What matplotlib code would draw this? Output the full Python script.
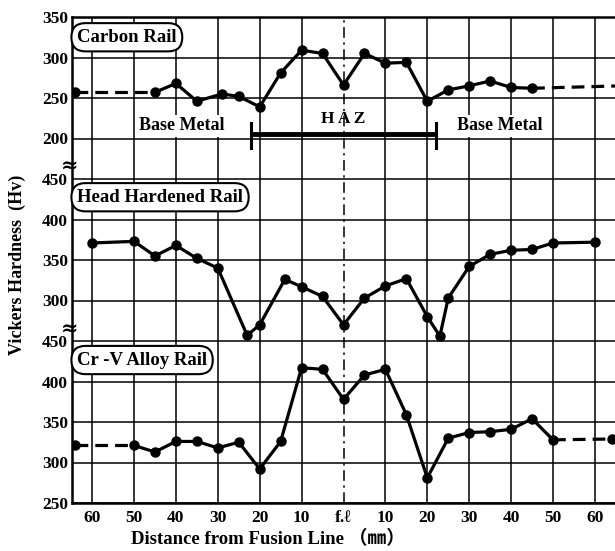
import matplotlib
matplotlib.use("Agg")
import matplotlib.pyplot as plt
import matplotlib.transforms as mtransforms

plt.rcParams['font.family'] = ['Liberation Serif', 'DejaVu Serif', 'Noto Sans CJK JP']
plt.rcParams['font.weight'] = 'bold'

# ---- data ----
# distance from fusion line in mm (negative = left side)
carbon_x = [-64, -45, -40, -35, -29, -25, -20, -15, -10, -5, 0, 5, 10, 15, 20, 25, 30, 35, 40, 45, 66]
carbon_hv = [257, 257, 268, 246, 255, 252, 239, 281, 309, 305, 266, 305, 293, 294, 246, 260, 265, 271, 263, 262, 265]

head_x = [-60, -50, -45, -40, -35, -30, -23, -20, -14, -10, -5, 0, 5, 10, 15, 20, 23, 25, 30, 35, 40, 45, 50, 60]
head_hv = [371, 373, 355, 368, 352, 340, 257, 270, 326, 317, 305, 270, 303, 318, 327, 280, 256, 303, 342, 357, 362, 363, 371, 372]

crv_x = [-64, -50, -45, -40, -35, -30, -25, -20, -15, -10, -5, 0, 5, 10, 15, 20, 25, 30, 35, 40, 45, 50, 64]
crv_hv = [321, 321, 313, 326, 326, 318, 325, 292, 326, 417, 415, 378, 408, 415, 359, 281, 330, 337, 338, 341, 354, 328, 329]

x_ticks = [-60, -50, -40, -30, -20, -10, 0, 10, 20, 30, 40, 50, 60]
x_labels = ['60', '50', '40', '30', '20', '10', 'f.ℓ', '10', '20', '30', '40', '50', '60']
y_labels = ['250', '300', '350', '400', '450', '300', '350', '400', '450', '200', '250', '300', '350']

panel_names = ['Carbon Rail', 'Head Hardened Rail', 'Cr -V Alloy Rail']
haz_limits = (-22, 22)


# 三段を一つの軸に積み重ねる (1 step = 50 Hv)
def top_step(v):
    return [(a - 200) / 50 + 9 for a in v]

def mid_step(v):
    return [(a - 250) / 50 + 4 for a in v]

def bot_step(v):
    return [(a - 250) / 50 for a in v]


def draw_series(ax, xs, ys, dash_left, dash_right):
    """
    solid in the middle, dashed at the ends
    """
    lw = 2.3
    ms = 6.5
    a, b = dash_left, len(xs) - 1 - dash_right
    ax.plot(xs[a:b + 1], ys[a:b + 1], '-', color='black', lw=lw, zorder=4)
    if dash_left:
        ax.plot(xs[:a + 1], ys[:a + 1], color='black', lw=lw, dashes=(4, 2.2), zorder=4)
    if dash_right:
        ax.plot(xs[b:], ys[b:], color='black', lw=lw, dashes=(4, 2.2), zorder=4)
    ax.plot(xs, ys, 'o', color='black', ms=ms, zorder=5)


fig = plt.figure(figsize=(6.15, 5.51), dpi=100)
ax = fig.add_axes([72 / 615, 1 - 503 / 551, (615 - 72) / 615, (503 - 17) / 551])
ax.set_xlim(-64.8, 64.8)
ax.set_ylim(0, 12)

ax.set_xticks(x_ticks)
ax.set_xticklabels(x_labels, fontsize=12.5, fontweight='bold')
ax.set_yticks(range(13))
ax.set_yticklabels(y_labels, fontsize=12.5, fontweight='bold')
ax.tick_params(length=0)
ax.tick_params(axis='x', pad=5)
ax.tick_params(axis='y', pad=3)

ax.grid(True, color='black', lw=1.1)
ax.get_xgridlines()[6].set_visible(False)
ax.axvline(0, color='black', lw=1.1, dashes=(7, 3, 1.5, 3), zorder=1)
ax.set_axisbelow(True)

for side in ['left', 'bottom', 'top']:
    ax.spines[side].set_linewidth(1.8)
ax.spines['right'].set_visible(False)

draw_series(ax, carbon_x, top_step(carbon_hv), 1, 1)
draw_series(ax, head_x, mid_step(head_hv), 0, 0)
draw_series(ax, crv_x, bot_step(crv_hv), 1, 1)

# panel names
box = dict(boxstyle='round,pad=0.3,rounding_size=0.75', fc='white', ec='black', lw=1.5)
for name, yy in zip(panel_names, [11.5, 7.55, 3.53]):
    ax.text(-63.6, yy, name, fontsize=13.5, fontweight='bold', ha='left', va='center', bbox=box, zorder=6)

# HAZ bar
ax.plot(haz_limits, [9.11, 9.11], color='black', lw=3.5, solid_capstyle='butt', zorder=6)
for xx in haz_limits:
    ax.plot([xx, xx], [8.77, 9.38], color='black', lw=2.2, zorder=6)
ax.text(0, 9.48, 'H A Z', fontsize=12.5, fontweight='bold', ha='center', va='center', zorder=6)
wbg = dict(fc='white', ec='none', pad=1.5)
ax.text(-38.5, 9.31, 'Base Metal', fontsize=13, fontweight='bold', ha='center', va='center', bbox=wbg, zorder=6)
ax.text(37.3, 9.31, 'Base Metal', fontsize=13, fontweight='bold', ha='center', va='center', bbox=wbg, zorder=6)

# axis break marks
trans = mtransforms.blended_transform_factory(ax.transAxes, ax.transData)
for yy in [8.3, 4.27]:
    ax.text(-0.004, yy, '≈', transform=trans, fontsize=15, fontweight='bold',
            ha='center', va='center', clip_on=False, zorder=7, family=['DejaVu Serif'])

fig.text(17 / 615, 1 - 265 / 551, 'Vickers Hardness  (Hv)', rotation=90, fontsize=13,
         fontweight='bold', ha='center', va='center')
fig.text(268 / 615, 1 - 539 / 551, 'Distance from Fusion Line （㎜）', fontsize=13.5,
         fontweight='bold', ha='center', va='center')

fig.savefig('out.png', dpi=100)
